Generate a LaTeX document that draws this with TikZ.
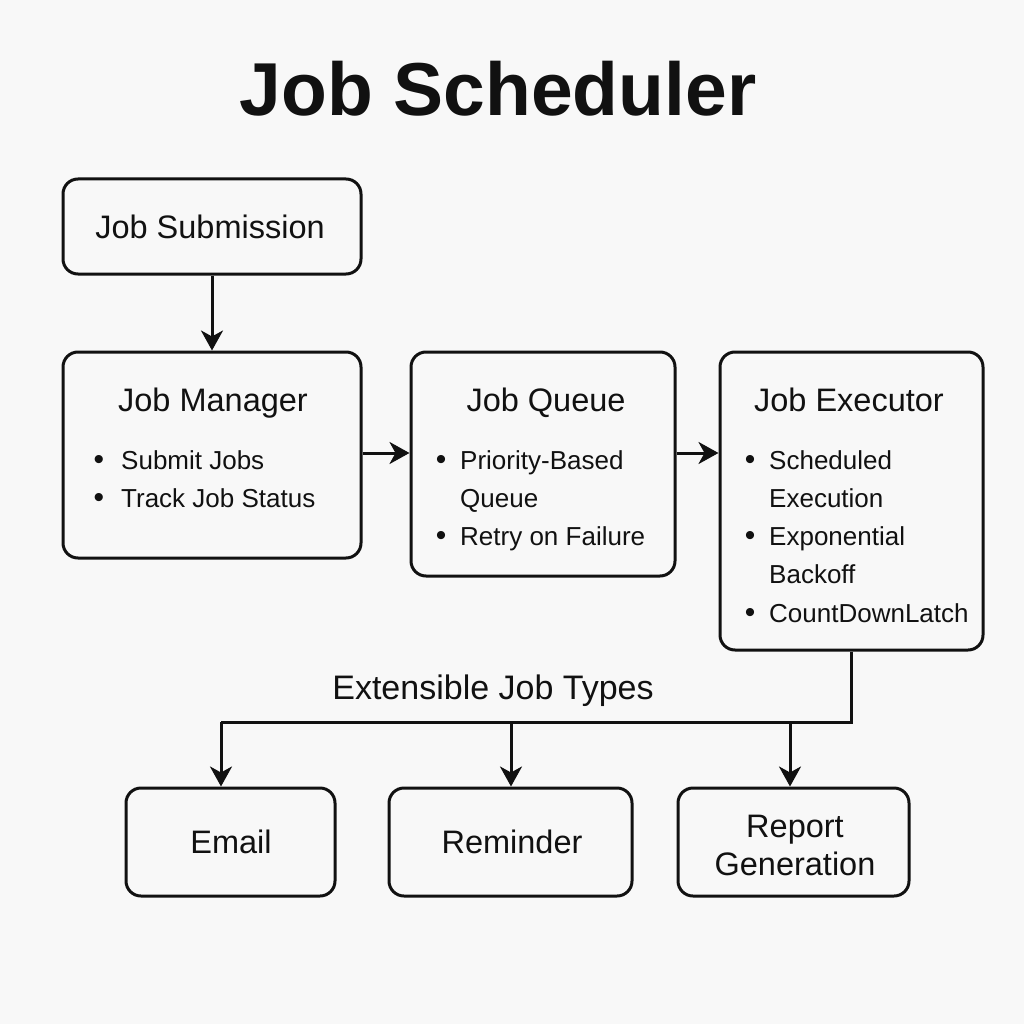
\documentclass[tikz,border=0pt]{standalone}
\usepackage{fontspec}
\setmainfont{Liberation Sans}
\usetikzlibrary{arrows.meta,calc}
\definecolor{bg}{HTML}{F8F8F8}
\definecolor{ink}{HTML}{111111}
\begin{document}
\begin{tikzpicture}[x=1pt,y=-1pt,
  box/.style={draw=ink,line width=3pt,rounded corners=15pt,fill=bg,inner sep=0pt},
  ttl/.style={anchor=base,font=\fontsize{32.5}{38}\selectfont,text=ink,inner sep=0pt},
  itm/.style={anchor=base west,font=\fontsize{26}{32}\selectfont,text=ink,inner sep=0pt},
  dot/.style={anchor=base,font=\fontsize{30}{34}\selectfont,text=ink,inner sep=0pt},
  conn/.style={draw=ink,line width=3pt},
  arr/.style={conn,-{Stealth[length=20pt,width=22pt,inset=6pt]}}]
\fill[bg] (0,0) rectangle (1024,1024);
\useasboundingbox (0,0) rectangle (1024,1024);

\node[anchor=base,font=\fontsize{75}{88}\selectfont\bfseries,text=ink,inner sep=0pt] (title) at (498,116) {Job Scheduler};

% boxes
\node[box,minimum width=298pt,minimum height=95pt] (sub) at (212,226.5) {};
\node[box,minimum width=298pt,minimum height=206pt] (man) at (212,455) {};
\node[box,minimum width=264pt,minimum height=224pt] (que) at (543,464) {};
\node[box,minimum width=263pt,minimum height=298pt] (exe) at (851.5,501) {};
\node[box,minimum width=209pt,minimum height=108pt] (email) at (230.5,842) {};
\node[box,minimum width=243pt,minimum height=108pt] (rem) at (510.5,842) {};
\node[box,minimum width=231pt,minimum height=108pt] (rep) at (793.5,842) {};

% texts
\node[ttl] (subT) at (210,239) {Job Submission};
\node[ttl] (manT) at (213,411) {Job Manager};
\node[dot] (manB1) at (99,469) {•};
\node[itm] (manI1) at (121,469) {Submit Jobs};
\node[dot] (manB2) at (99,507) {•};
\node[itm] (manI2) at (121,507) {Track Job Status};

\node[ttl] (queT) at (546,411) {Job Queue};
\node[dot] (queB1) at (441,469) {•};
\node[itm] (queI1) at (460,469) {Priority-Based};
\node[itm] (queI1b) at (460,507) {Queue};
\node[dot] (queB2) at (441,545) {•};
\node[itm] (queI2) at (460,545) {Retry on Failure};

\node[ttl] (exeT) at (849,411) {Job Executor};
\node[dot] (exeB1) at (750,469) {•};
\node[itm] (exeI1) at (769,469) {Scheduled};
\node[itm] (exeI1b) at (769,507) {Execution};
\node[dot] (exeB2) at (750,545) {•};
\node[itm] (exeI2) at (769,545) {Exponential};
\node[itm] (exeI2b) at (769,583) {Backoff};
\node[dot] (exeB3) at (750,622) {•};
\node[itm] (exeI3) at (769,622) {CountDownLatch};

\node[ttl,font=\fontsize{34}{40}\selectfont] (ext) at (493,699) {Extensible Job Types};

\node[ttl] (emailT) at (231,853) {Email};
\node[ttl] (remT) at (512,853) {Reminder};
\node[ttl] (repT1) at (795,837) {Report};
\node[ttl] (repT2) at (795,875) {Generation};

% connectors
\draw[arr] (sub.south) -- (man.north);
\draw[arr] ($(man.east)+(0,-2)$) -- ($(man.east -| que.west)+(0,-2)$);
\draw[arr] ($(que.east |- man.east)+(0,-2)$) -- ($(exe.west |- man.east)+(0,-2)$);

\coordinate (jL) at (221,722);
\coordinate (jM) at (511,722);
\coordinate (jR) at (790,722);
\draw[conn,line join=miter] (exe.south) |- (jL);
\draw[arr] (jL) -- (jL |- email.north);
\draw[arr] (jM) -- (jM |- rem.north);
\draw[arr] (jR) -- (jR |- rep.north);
\end{tikzpicture}
\end{document}
